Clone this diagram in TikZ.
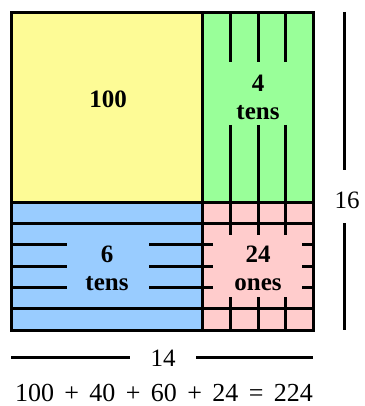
\documentclass[tikz,border=0pt]{standalone}
\usepackage{fontspec}
\setmainfont{Liberation Serif}
\definecolor{yellowc}{HTML}{FDFB96}
\definecolor{greenc}{HTML}{99FF99}
\definecolor{bluec}{HTML}{99CCFF}
\definecolor{pinkc}{HTML}{FFCCCC}
\begin{document}
\begin{tikzpicture}[x=1pt,y=-1pt,line width=3pt,
  lbl/.style={font=\fontsize{25}{28}\selectfont\bfseries, align=center, inner sep=0pt},
  dim/.style={font=\fontsize{25}{28}\selectfont, inner sep=0pt}]
\useasboundingbox (0,0) rectangle (364,406);
% fills
\fill[yellowc] (11,13) rectangle (202,202);
\fill[greenc] (202,13) rectangle (313,202);
\fill[bluec] (11,202) rectangle (202,330);
\fill[pinkc] (202,202) rectangle (313,330);
% vertical tens / ones lines
\foreach \x in {230,258,285} {
  \draw (\x,13) -- (\x,62);
  \draw (\x,125) -- (\x,235);
  \draw (\x,297) -- (\x,330);
}
% horizontal lines
\foreach \y in {223,308} { \draw (11,\y) -- (313,\y); }
\foreach \y in {244,266,287} {
  \draw (11,\y) -- (67,\y);
  \draw (149,\y) -- (213,\y);
  \draw (302,\y) -- (313,\y);
}
% dividers and border
\draw (202,13) -- (202,330);
\draw (11,202) -- (313,202);
\draw (11,13) rectangle (313,330);
% labels
\node[lbl] (hundred) at (108,99) {100};
\node[lbl] (fourtens) at (258,97) {4\\tens};
\node[lbl] (sixtens) at (107,268) {6\\tens};
\node[lbl] (ones) at (258,268) {24\\ones};
% dimensions
\node[dim] (w) at (163,358) {14};
\draw (11,357) -- (130,357);
\draw (196,357) -- (313,357);
\node[dim] (h) at (347,200) {16};
\draw (344,12) -- (344,170);
\draw (344,223) -- (344,330);
% equation
\node[font=\fontsize{26}{29}\selectfont, inner sep=0pt, text depth=0pt, anchor=base] (eq) at (164,401) {\makebox[298pt][s]{100 + 40 + 60 + 24 = 224}};
\end{tikzpicture}
\end{document}
